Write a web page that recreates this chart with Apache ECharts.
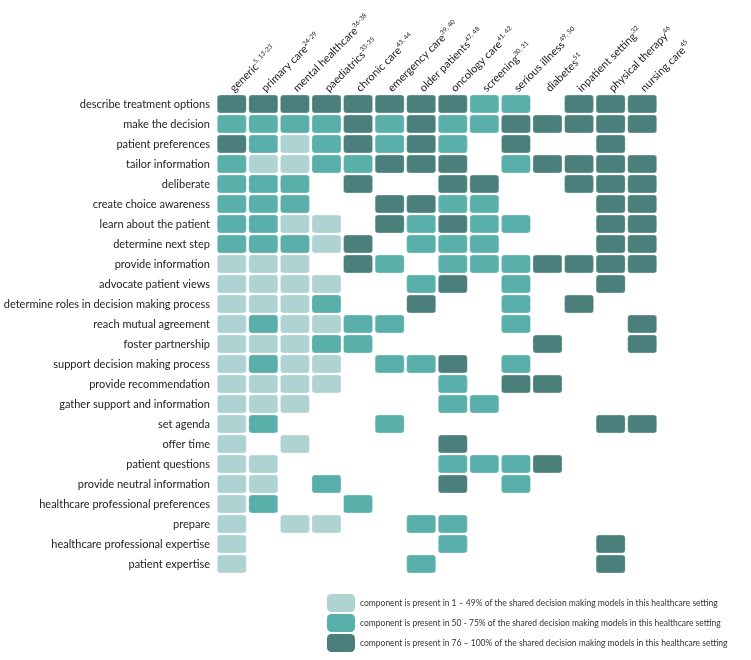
<!DOCTYPE html>
<html>
<head>
<meta charset="utf-8">
<script src="https://cdn.jsdelivr.net/npm/echarts@6/dist/echarts.min.js"></script>
<style>html,body{margin:0;padding:0;background:#fff}#c{width:751px;height:660px}</style>
</head>
<body>
<div id="c"></div>
<script>
var settings = ['generic','primary care','mental healthcare','paediatrics','chronic care','emergency care','older patients','oncology care','screening','serious illness','diabetes','inpatient setting','physical therapy','nursing care'];
var refs = ['5, 13-23','24-29','36-38','33-35','43, 44','39, 40','47, 48','41, 42','30, 31','49, 50','51','32','46','45'];
var components = ['describe treatment options','make the decision','patient preferences','tailor information','deliberate','create choice awareness','learn about the patient','determine next step','provide information','advocate patient views','determine roles in decision making process','reach mutual agreement','foster partnership','support decision making process','provide recommendation','gather support and information','set agenda','offer time','patient questions','provide neutral information','healthcare professional preferences','prepare','healthcare professional expertise','patient expertise'];
// 0 = absent, 1 = 1-49%, 2 = 50-75%, 3 = 76-100%
var levels = [
  [3,3,3,3,3,3,3,3,2,2,0,3,3,3],
  [2,2,2,2,3,2,3,2,2,3,3,3,3,3],
  [3,2,1,2,3,2,3,2,0,3,0,0,3,0],
  [2,1,1,2,2,3,3,3,0,2,3,3,3,3],
  [2,2,2,0,3,0,0,3,3,0,0,3,3,3],
  [2,2,2,0,0,3,3,2,2,0,0,0,3,3],
  [2,2,1,1,0,3,2,3,2,2,0,0,3,3],
  [2,2,2,1,3,0,2,2,2,0,0,0,3,3],
  [1,1,1,0,3,2,0,2,2,2,3,3,3,3],
  [1,1,1,1,0,0,2,3,0,2,0,0,3,0],
  [1,1,1,2,0,0,3,0,0,2,0,3,0,0],
  [1,2,1,1,2,2,0,0,0,2,0,0,0,3],
  [1,1,1,2,2,0,0,0,0,0,3,0,0,3],
  [1,2,1,1,0,2,2,3,0,2,0,0,0,0],
  [1,1,1,1,0,0,0,2,0,3,3,0,0,0],
  [1,1,1,0,0,0,0,2,2,0,0,0,0,0],
  [1,2,0,0,0,2,0,0,0,0,0,0,3,3],
  [1,0,1,0,0,0,0,3,0,0,0,0,0,0],
  [1,1,0,0,0,0,0,2,2,2,3,0,0,0],
  [1,1,0,2,0,0,0,3,0,2,0,0,0,0],
  [1,2,0,0,2,0,0,0,0,0,0,0,0,0],
  [1,0,1,1,0,0,2,2,0,0,0,0,0,0],
  [1,0,0,0,0,0,0,2,0,0,0,0,3,0],
  [1,0,0,0,0,0,2,0,0,0,0,0,3,0]
];
var legendLabels = [
  'component is present in 1 \u2013 49% of the shared decision making models in this healthcare setting',
  'component is present in 50 - 75% of the shared decision making models in this healthcare setting',
  'component is present in 76 \u2013 100% of the shared decision making models in this healthcare setting'
];
var colors = ['#aed3d2', '#59afaa', '#4a7f7b'];

var data = [];
levels.forEach(function (row, r) {
  row.forEach(function (v, c) { if (v > 0) data.push([c, r, v]); });
});

var FONT = 'Lato';
var chart = echarts.init(document.getElementById('c'));
chart.setOption({
  animation: false,
  grid: { left: 216, right: 93, top: 94, bottom: 86, containLabel: false, outerBoundsMode: 'none' },
  xAxis: {
    type: 'category', position: 'top', data: settings,
    axisLine: { show: false }, axisTick: { show: false }, splitLine: { show: false },
    axisLabel: {
      rotate: -45, margin: 4, interval: 0, hideOverlap: false,
      formatter: function (v, i) { return '{n|' + v + '}{s|' + refs[i] + '}'; },
      rich: {
        n: { fontFamily: FONT, fontSize: 11, color: '#222', lineHeight: 14, verticalAlign: 'middle' },
        s: { fontFamily: FONT, fontSize: 6.5, color: '#222', lineHeight: 14, verticalAlign: 'top' }
      }
    }
  },
  yAxis: {
    type: 'category', inverse: true, data: components,
    axisLine: { show: false }, axisTick: { show: false }, splitLine: { show: false },
    axisLabel: { fontFamily: FONT, fontSize: 11, color: '#222', margin: 6, interval: 0 }
  },
  visualMap: {
    type: 'piecewise', dimension: 2, seriesIndex: 0,
    orient: 'vertical', inverse: true,
    left: 327, top: 594, padding: 0,
    itemWidth: 28, itemHeight: 18, itemGap: 2, itemSymbol: 'roundRect',
    textGap: 5, selectedMode: false,
    textStyle: { fontFamily: FONT, fontSize: 8.5, color: '#333' },
    pieces: [
      { value: 1, label: legendLabels[0], color: colors[0] },
      { value: 2, label: legendLabels[1], color: colors[1] },
      { value: 3, label: legendLabels[2], color: colors[2] }
    ]
  },
  series: [{
    type: 'custom',
    data: data,
    encode: { x: 0, y: 1 },
    renderItem: function (params, api) {
      var p = api.coord([api.value(0), api.value(1)]);
      var s = api.size([1, 1]);
      var w = s[0] - 2.5, h = s[1] - 2;
      return {
        type: 'rect',
        shape: { x: p[0] - w / 2, y: p[1] - h / 2, width: w, height: h, r: 3 },
        style: { fill: api.visual('color'), stroke: 'rgba(255,255,255,0.6)', lineWidth: 0.5 }
      };
    }
  }]
});
</script>
</body>
</html>
